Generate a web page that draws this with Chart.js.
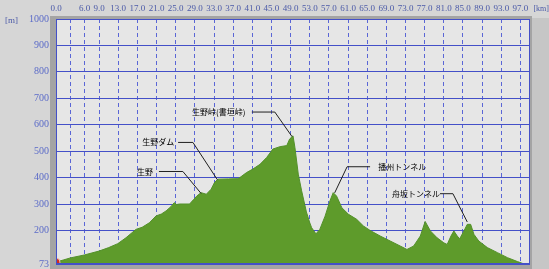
<!DOCTYPE html>
<html>
<head>
<meta charset="utf-8">
<script src="https://cdn.jsdelivr.net/npm/chart.js@4.4.0/dist/chart.umd.min.js"></script>
<style>
  html, body { margin: 0; padding: 0; background: #d6d6d6; }
  canvas { display: block; }
</style>
</head>
<body>
<canvas id="profileChart" width="549" height="269"></canvas>
<script>
// Elevation profile (distance in km, elevation in m)
const distKm = [0, 1.5, 3, 5.9, 9, 11, 12.9, 14.6, 16.7, 18, 19.5, 20.9, 22, 23, 24, 24.7, 25.2, 25.8,
  27.9, 28.8, 29.4, 30.3, 31.4, 32.4, 33.1, 33.8, 36, 38, 38.4, 39.8, 41.1, 42.6, 44, 45.3, 46.8,
  48.2, 48.8, 49.5, 49.9, 50.6, 51.3, 52.3, 53.0, 53.4, 54.3, 55.1, 56.2, 57.2, 57.9, 58.6, 59.7,
  61.1, 62.8, 64.2, 65.6, 67.7, 69.8, 71.9, 73.3, 74.7, 76.1, 77.1, 78.2, 79.6, 81, 81.7, 82.5,
  83.1, 83.8, 84.3, 85.2, 85.9, 86.6, 87.3, 88.3, 90.1, 92.2, 94.3, 96.4, 97.8];
const elevM = [80, 88, 96, 107, 122, 135, 150, 172, 204, 212, 229, 255, 262, 274, 290, 305, 298, 300,
  300, 318, 330, 343, 337, 356, 381, 394, 395, 396, 400, 419, 432, 450, 476, 508, 517,
  521, 546, 558, 514, 413, 350, 270, 229, 210, 187, 204, 254, 311, 343, 330, 286,
  261, 242, 217, 200, 179, 160, 141, 128, 141, 179, 234, 198, 172, 153, 147, 179,
  198, 179, 168, 198, 223, 223, 185, 160, 135, 116, 97, 82, 73];

const xTickKm = [0, 3, 6, 9, 13, 17, 21, 25, 29, 33, 37, 41, 45, 49, 53, 57, 61, 65, 69, 73, 77, 81, 85, 89, 93, 97];
const xTickLabels = ['0.0', '', '6.0', '9.0', '13.0', '17.0', '21.0', '25.0', '29.0', '33.0', '37.0', '41.0',
  '45.0', '49.0', '53.0', '57.0', '61.0', '65.0', '69.0', '73.0', '77.0', '81.0', '85.0', '89.0', '93.0', '97.0'];
const yTickM = [73, 200, 300, 400, 500, 600, 700, 800, 900, 1000];

// place names with leader lines: text anchor, elbow, and the point on the profile (km, m)
const placeNames = ['生野', '生野ダム', '生野峠(書垣峠)', '播州トンネル', '舟坂トンネル'];
const placeTextKm = [16.9, 18.0, 28.4, 67.3, 70.2];
const placeTextM = [423, 533, 648, 441, 339];
const placeLineKm = [21.5, 25.5, 40.9, 65.6, 80.2];
const placeElbowKm = [26.5, 28.6, 45.7, 60.8, 82.9];
const placeTargetKm = [30.3, 33.7, 49.3, 58.2, 85.9];
const placeTargetM = [340, 392, 555, 342, 232];

const blue = '#4450c8';

const backdrop = {
  id: 'backdrop',
  beforeDraw(chart) {
    const {ctx, chartArea: a} = chart;
    ctx.save();
    ctx.fillStyle = '#d6d6d6';
    ctx.fillRect(0, 0, chart.width, chart.height);
    ctx.fillStyle = '#c6c6c6';
    ctx.fillRect(a.right + 2, 18, chart.width - a.right - 2, chart.height - 18);
    ctx.fillStyle = '#a4a4a4';
    ctx.fillRect(a.left - 6, a.top - 3, a.right - a.left + 8, chart.height - a.top + 3);
    ctx.fillStyle = '#e6e6e6';
    ctx.fillRect(a.left, a.top, a.right - a.left, a.bottom - a.top);
    ctx.restore();
  },
  afterDraw(chart) {
    const {ctx, chartArea: a, scales: {x, y}} = chart;
    ctx.save();
    ctx.strokeStyle = blue;
    ctx.lineWidth = 1;
    ctx.strokeRect(a.left + 0.5, a.top + 0.5, a.right - a.left - 1, a.bottom - a.top - 1);

    // unit labels
    ctx.fillStyle = '#4b5aa8';
    ctx.font = '9px "Liberation Serif"';
    ctx.textBaseline = 'middle';
    ctx.textAlign = 'left';
    ctx.fillText('[m]', 5, 21);
    ctx.font = '8px "Liberation Serif"';
    ctx.textAlign = 'right';
    ctx.fillText('[km]', 549, 9);

    ctx.textAlign = 'left';
    ctx.font = '8px "Noto Sans CJK JP"';
    ctx.strokeStyle = '#202020';
    for (let i = 0; i < placeNames.length; i++) {
      const ty = y.getPixelForValue(placeTextM[i]);
      const tx = x.getPixelForValue(placeTextKm[i]);
      ctx.fillStyle = '#000';
      ctx.fillText(placeNames[i], tx, ty);
      ctx.beginPath();
      ctx.moveTo(x.getPixelForValue(placeLineKm[i]), ty);
      ctx.lineTo(x.getPixelForValue(placeElbowKm[i]), ty);
      ctx.lineTo(x.getPixelForValue(placeTargetKm[i]), y.getPixelForValue(placeTargetM[i]));
      ctx.stroke();
    }
    ctx.restore();
  }
};

new Chart(document.getElementById('profileChart'), {
  type: 'line',
  data: {
    datasets: [{
      data: distKm.map((d, i) => ({x: d, y: elevM[i]})),
      fill: 'start',
      backgroundColor: '#5e9b2b',
      borderColor: '#53912a',
      borderWidth: 1,
      tension: 0,
      pointRadius: ctx => ctx.dataIndex === 0 ? 4 : 0,
      pointBackgroundColor: '#d42a1e',
      pointBorderColor: '#f0c0b0',
      pointBorderWidth: 1
    }]
  },
  options: {
    responsive: false,
    animation: false,
    devicePixelRatio: 1,
    layout: { padding: { left: 0, right: 19, top: 0, bottom: 3 } },
    plugins: { legend: { display: false }, tooltip: { enabled: false } },
    scales: {
      x: {
        type: 'linear',
        position: 'top',
        min: 0,
        max: 99,
        z: 1,
        afterBuildTicks: s => { s.ticks = xTickKm.map(v => ({value: v})); },
        afterFit: s => { s.height = 19; s.paddingLeft = 0; s.paddingRight = 0; },
        grid: { color: '#5a66d6', lineWidth: 1, drawTicks: false },
        border: { display: false, dash: [4, 3] },
        ticks: {
          autoSkip: false,
          maxRotation: 0,
          padding: 5,
          color: '#4b5aa8',
          font: { family: 'Liberation Serif', size: 9 },
          callback: (v, i) => xTickLabels[i]
        }
      },
      y: {
        min: 73,
        max: 1000,
        z: 1,
        afterBuildTicks: s => { s.ticks = yTickM.map(v => ({value: v})); },
        afterFit: s => { s.width = 56; s.paddingTop = 0; s.paddingBottom = 0; },
        grid: { color: blue, lineWidth: 1, drawTicks: false },
        border: { display: false },
        ticks: {
          padding: 7,
          color: '#5b6bc8',
          font: { family: 'Liberation Serif', size: 10 },
          callback: v => String(v)
        }
      }
    }
  },
  plugins: [backdrop]
});
</script>
</body>
</html>
